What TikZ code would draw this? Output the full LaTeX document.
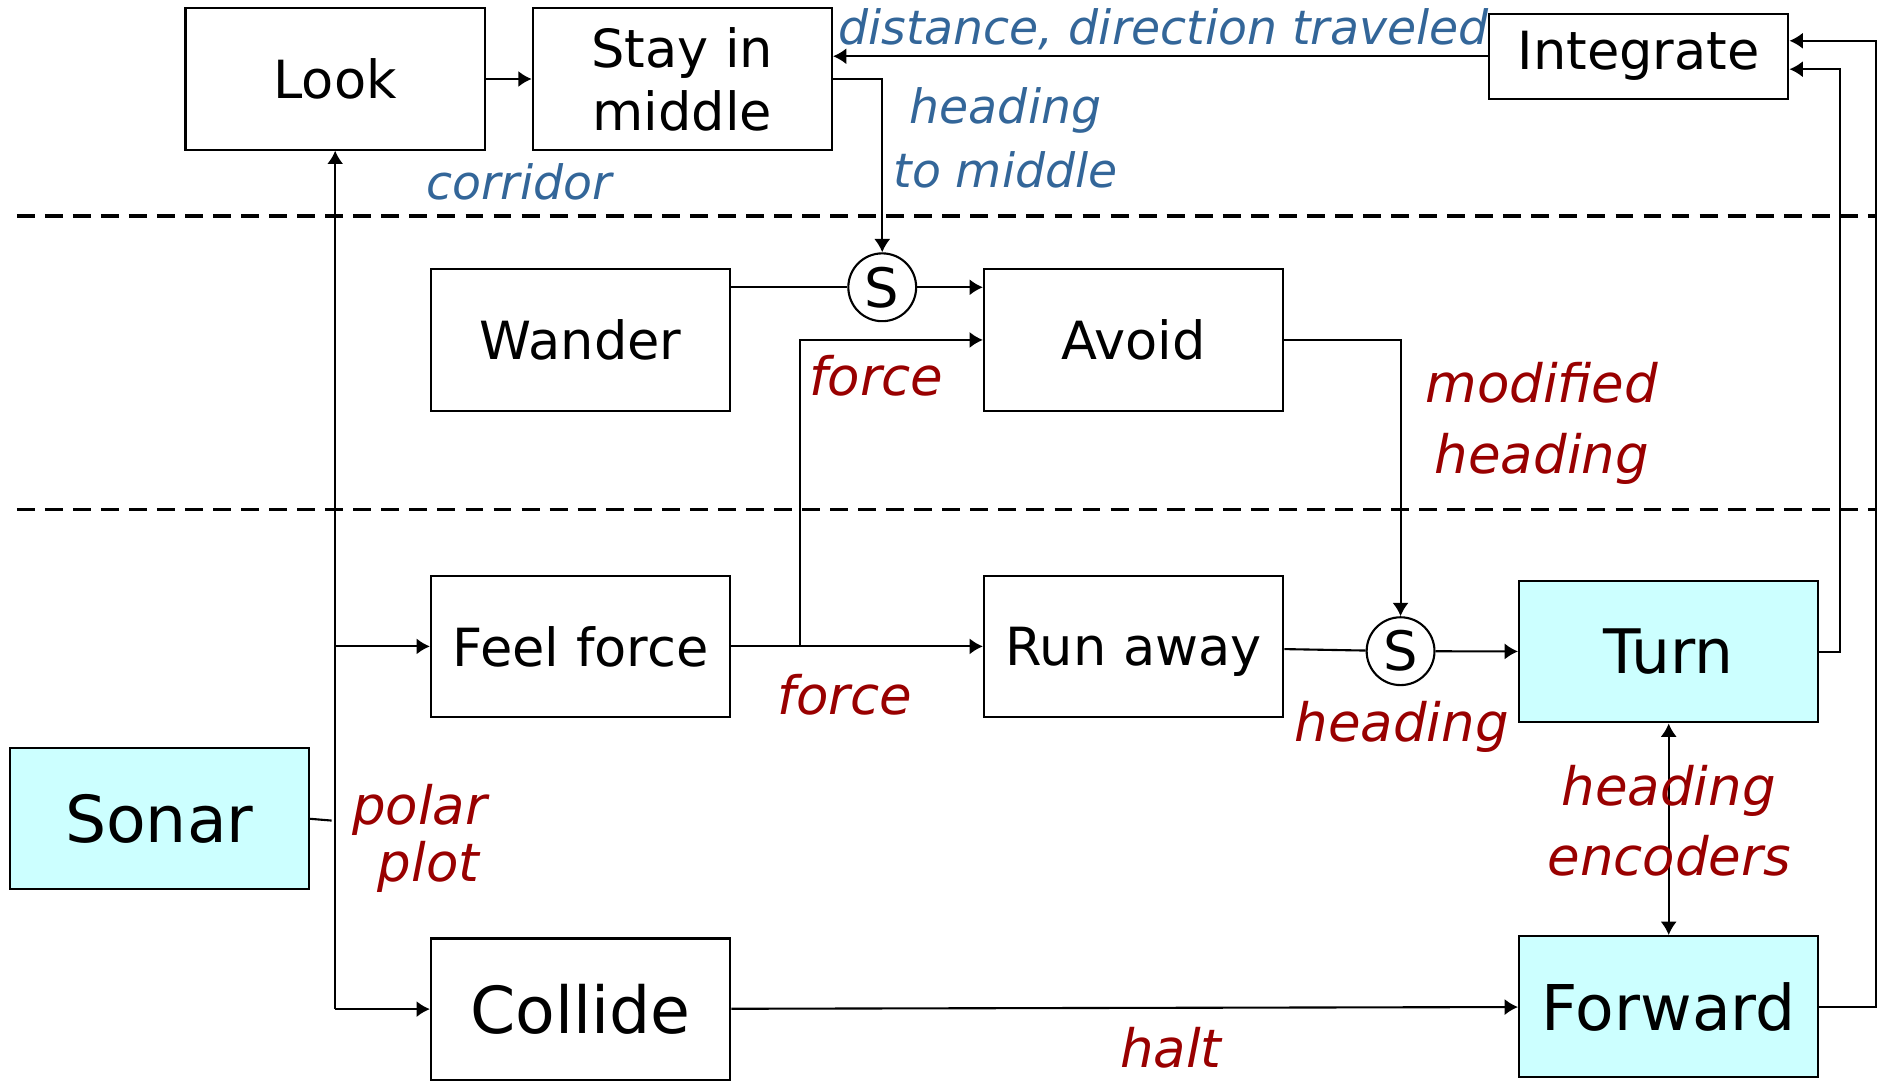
\documentclass[tikz,border=0pt]{standalone}
\usepackage{fontspec}
\setmainfont{DejaVu Sans}
\usetikzlibrary{arrows.meta}
\definecolor{lblue}{RGB}{51,102,153}
\definecolor{lred}{RGB}{153,0,0}
\definecolor{sensor}{RGB}{204,255,255}
\begin{document}
\begin{tikzpicture}[x=1.2mm,y=1.2mm,
		box/.style={draw,line width=.6pt,inner sep=0pt,minimum width=3cm,minimum height=1.416cm,align=center,font=\fontsize{15}{18}\selectfont},
		hw/.style={box,fill=sensor},
		sup/.style={draw,line width=.6pt,circle,inner sep=0pt,minimum size=.68cm,font=\fontsize{15.5}{16}\selectfont},
		arr/.style={line width=.6pt,-{Latex[length=3.8pt,width=4.6pt]}},
		arrb/.style={line width=.6pt,{Latex[length=3.8pt,width=4.6pt]}-{Latex[length=3.8pt,width=4.6pt]}},
		layer/.style={line width=1pt,dash pattern=on 5.1pt off 2.9pt},
		bl/.style={anchor=base,text=lblue,font=\fontsize{13.5}{16}\selectfont\itshape},
		rd/.style={anchor=base,text=lred,font=\fontsize{15.1}{18}\selectfont\itshape}]
				\useasboundingbox (0,0) rectangle (156.8,90.5);
				\node[box] (Look) at (28,83.9) {Look};
				\node[box] (Stay) at (57,83.9) {Stay in\\middle};
				\node[box,minimum height=.85cm] (Integ) at (136.9,85.8) {Integrate};
				\node[box] (Wander) at (48.5,62.1) {Wander};
				\node[box] (Avoid) at (94.7,62.1) {Avoid};
				\node[sup] (S1) at (73.7,66.5) {S};
				\node[box] (Feel) at (48.5,36.5) {Feel force};
				\node[box,text depth=0pt] (Run) at (94.7,36.5) {Run away};
				\node[sup] (S2) at (117,36.1) {S};
				\node[hw,font=\fontsize{17.5}{20}\selectfont] (Turn) at (139.4,36.05) {Turn};
				\node[hw,font=\fontsize{18.5}{22}\selectfont] (Sonar) at (13.3,22.1) {Sonar};
				\node[box,font=\fontsize{18.5}{22}\selectfont] (Collide) at (48.5,6.2) {Collide};
				\node[hw,font=\fontsize{18}{22}\selectfont] (Fwd) at (139.4,6.4) {Forward};
				\coordinate (Tap) at (27.7,21.95);
				\coordinate (Fork) at (66.85,36.5);
				
				\draw[layer] (1.4,72.44) -- (156.8,72.44);
				\draw[layer] (1.4,47.92) -- (156.8,47.92);
				
				\draw[arr] (Look) -- (Stay);
				\draw[arr] (Integ.west) -- (Integ.west -| Stay.east);
				\draw[arr] (Stay.east) -| (S1);
				\draw[line width=.6pt] (Wander.east |- S1) -- (S1);
				\draw[arr] (S1) -- (S1 -| Avoid.west);
				\draw[arr] (Look.south |- Collide) -- (Look.south);
				\draw[arr] (Look.south |- Feel) -- (Feel.west);
				\draw[arr] (Look.south |- Collide) -- (Collide.west);
				\draw[line width=.6pt] (Sonar.east) -- (Tap);
				\draw[arr] (Feel) -- (Run);
				\draw[arr] (Fork) |- (Avoid.west);
				\draw[arr] (Avoid) -| (S2);
				\draw[line width=.6pt] (Run) -- (S2);
				\draw[arr] (S2) -- (Turn);
				\draw[arrb] (Turn) -- (Fwd);
				\draw[arr] (Collide) -- (Fwd);
				\draw[arr] (Turn.east) -- ++(1.75,0) |- ([yshift=-1.3mm]Integ.east);
				\draw[arr] (Fwd.east) -- ++(4.75,0) |- ([yshift=1.55mm]Integ.east);
				
				\node[bl] (dist) at (97.2,86.75) {distance, direction traveled};
				\node[bl] (head1) at (84,80.14) {heading};
				\node[bl] (head2) at (84,74.82) {to middle};
				\node[bl] (corr) at (43.37,73.82) {corridor};
				\node[rd] (force1) at (73.2,57.42) {force};
				\node[rd] (mod1) at (128.8,56.84) {modified};
				\node[rd] (mod2) at (128.8,50.94) {heading};
				\node[rd] (force2) at (70.6,30.8) {force};
				\node[rd] (polar1) at (35.06,21.65) {polar};
				\node[rd] (polar2) at (35.8,16.9) {plot};
				\node[rd] (head3) at (117.1,28.56) {heading};
				\node[rd] (enc1) at (139.4,23.24) {heading};
				\node[rd] (enc2) at (139.45,17.34) {encoders};
				\node[rd] (halt) at (97.8,1.36) {halt};
			\end{tikzpicture}
\end{document}
